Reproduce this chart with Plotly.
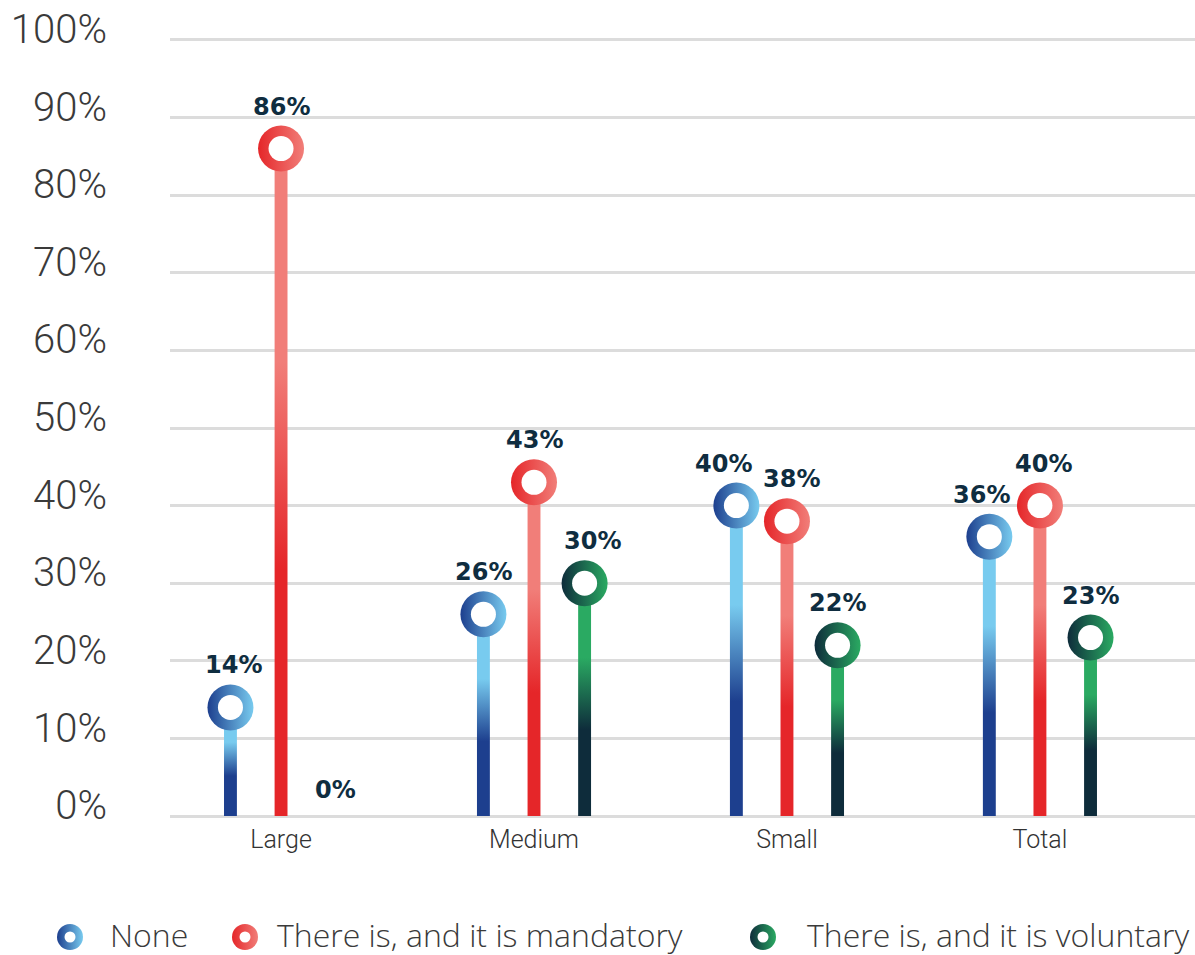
import plotly.graph_objects as go

# ---- data -------------------------------------------------------------
categories = ["Large", "Medium", "Small", "Total"]
none_pct = [14, 26, 40, 36]
mandatory_pct = [86, 43, 38, 40]
voluntary_pct = [0, 30, 22, 23]
series_names = ["None", "There is, and it is mandatory", "There is, and it is voluntary"]
y_ticks = [0, 10, 20, 30, 40, 50, 60, 70, 80, 90, 100]
y_tick_labels = ["0%", "10%", "20%", "30%", "40%", "50%", "60%", "70%", "80%", "90%", "100%"]

# ---- styling ----------------------------------------------------------
W, H = 1195, 955
PLOT_LEFT, PLOT_TOP, PLOT_BOTTOM = 170, 36, 820
X_RANGE = [-0.439, 3.613]
Y_RANGE = [-0.5, 100.5]

STYLES = [
    dict(dark="#1D3F8E", light="#78CBEF", offset=-0.2),
    dict(dark="#E52629", light="#F17E79", offset=0.0),
    dict(dark="#0E2C3B", light="#2AAA62", offset=0.2),
]
LABEL_NUDGE = {(0, 0): 3, (2, 0): 4, (2, 1): 8, (0, 2): -13, (1, 2): 5, (0, 3): -8, (1, 3): 4}
LABEL_COLOR = "#0F2D40"
TEXT_GREY = "#3A3A3A"
GRID = "#DCDCDC"
STEM_HALF = 0.0255
GRAD_LO, GRAD_HI = 0.37, 0.68

# legend row placement (pixels)
LEG_SYM_Y, LEG_TXT_Y = 937, 934
LEG_SYM_X = [70, 245, 763]
LEG_TXT_X = [108, 275, 805]


def ring(fig, xs, ys, style, outer, inner, axes=("x", "y")):
    """Gradient disc (dark left -> light right) with a white centre."""
    for size, kw in ((outer, dict(color=style["dark"],
                                  gradient=dict(type="horizontal", color=style["light"]))),
                     (inner, dict(color="white"))):
        fig.add_trace(go.Scatter(
            x=xs, y=ys, xaxis=axes[0], yaxis=axes[1], mode="markers",
            cliponaxis=False, showlegend=False, hoverinfo="skip",
            marker=dict(symbol="circle", size=size, line=dict(width=0), **kw),
        ))


fig = go.Figure()
all_series = [none_pct, mandatory_pct, voluntary_pct]

# stems: narrow filled columns with a vertical dark -> light gradient
for s, values in enumerate(all_series):
    st = STYLES[s]
    scale = [[0, st["dark"]], [GRAD_LO, st["dark"]], [GRAD_HI, st["light"]], [1, st["light"]]]
    for i, v in enumerate(values):
        if v <= 0:
            continue
        xc = i + st["offset"]
        fig.add_trace(go.Scatter(
            x=[xc - STEM_HALF, xc + STEM_HALF, xc + STEM_HALF, xc - STEM_HALF, xc - STEM_HALF],
            y=[0, 0, v, v, 0],
            mode="none", fill="toself",
            fillgradient=dict(type="vertical", colorscale=scale, start=0, stop=v),
            showlegend=False, hoverinfo="skip",
        ))

# ring heads
for s, values in enumerate(all_series):
    xs = [i + STYLES[s]["offset"] for i, v in enumerate(values) if v > 0]
    ys = [v for v in values if v > 0]
    ring(fig, xs, ys, STYLES[s], 46, 25)

# value labels
for s, values in enumerate(all_series):
    st = STYLES[s]
    for i, v in enumerate(values):
        fig.add_annotation(
            x=i + st["offset"], y=v, text=f"{v}%", showarrow=False,
            xanchor="center", yanchor="middle",
            xshift=LABEL_NUDGE.get((s, i), 0), yshift=42 if v > 0 else 26,
            font=dict(family="DejaVu Sans", size=24, color=LABEL_COLOR, weight="bold"),
        )

# legend row along the bottom (drawn on a pixel-space overlay axis pair)
for s, name in enumerate(series_names):
    ring(fig, [LEG_SYM_X[s]], [LEG_SYM_Y], STYLES[s], 26, 11, axes=("x2", "y2"))
    fig.add_annotation(
        x=LEG_TXT_X[s] / W, y=1 - LEG_TXT_Y / H, xref="paper", yref="paper",
        text=name, showarrow=False, xanchor="left", yanchor="middle",
        font=dict(family="Open Sans", size=32, color=TEXT_GREY, weight=300),
    )

fig.update_layout(
    width=W, height=H, template="none",
    paper_bgcolor="white", plot_bgcolor="rgba(0,0,0,0)",
    margin=dict(l=0, r=0, t=0, b=0),
    showlegend=False,
    xaxis=dict(
        domain=[PLOT_LEFT / W, 1], range=X_RANGE,
        tickvals=list(range(len(categories))), ticktext=categories,
        showgrid=False, zeroline=False, showline=False, ticks="",
        tickfont=dict(family="Roboto", size=25, color="#333333", weight=300),
        ticklabelstandoff=2, automargin=False, fixedrange=True,
    ),
    yaxis=dict(
        domain=[1 - PLOT_BOTTOM / H, 1 - PLOT_TOP / H], range=Y_RANGE,
        tickvals=y_ticks, ticktext=y_tick_labels,
        showgrid=True, gridcolor=GRID, gridwidth=3,
        zeroline=False, showline=False, ticks="",
        tickfont=dict(family="Roboto", size=40, color=TEXT_GREY, weight=300),
        ticklabelstandoff=62, ticklabelshift=-11, automargin=False, fixedrange=True,
    ),
    xaxis2=dict(domain=[0, 1], range=[0, W], visible=False, anchor="y2", fixedrange=True),
    yaxis2=dict(domain=[0, 1], range=[H, 0], visible=False, anchor="x2", fixedrange=True),
)

fig.write_html("out.html")
